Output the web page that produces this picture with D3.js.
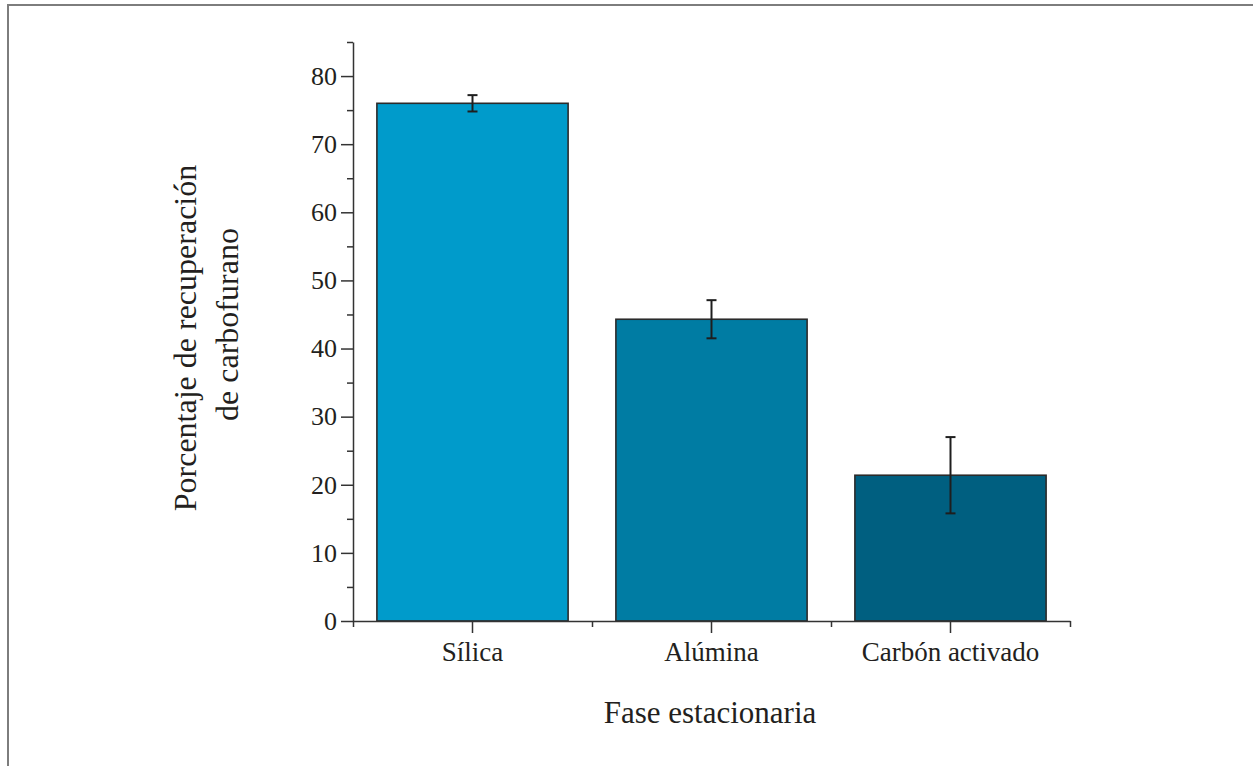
<!DOCTYPE html>
<html>
<head>
<meta charset="utf-8">
<script src="https://cdn.jsdelivr.net/npm/d3@7"></script>
<style>
  html, body { margin: 0; padding: 0; background: #fff; }
  svg { display: block; }
  text { font-family: "Liberation Serif", "DejaVu Serif", serif; fill: #231f20; }
</style>
</head>
<body>
<svg id="chart" width="1253" height="766"></svg>
<script>
// Recovery of carbofuran by stationary phase (mean and error)
const categories = ["Sílica", "Alúmina", "Carbón activado"];
const recovery = [76.0, 44.3, 21.4];
const errors = [1.2, 2.8, 5.6];
const barColors = ["#009bcb", "#007ca3", "#005f80"];
const majorYTicks = [0, 10, 20, 30, 40, 50, 60, 70, 80];
const minorYTicks = [5, 15, 25, 35, 45, 55, 65, 75, 85];
const xTitle = "Fase estacionaria";
const yTitleLines = ["Porcentaje de recuperación", "de carbofurano"];

const svg = d3.select("#chart");
const W = 1253, H = 766;

// Frame
svg.append("rect")
  .attr("x", 8).attr("y", 5)
  .attr("width", W).attr("height", H)
  .attr("fill", "none")
  .attr("stroke", "#7d7d7d")
  .attr("stroke-width", 2);

const plotLeft = 353, plotRight = 1070, plotTop = 42, plotBottom = 621;

const y = d3.scaleLinear().domain([0, 85]).range([plotBottom, plotTop]);
const x = d3.scaleBand().domain(categories).range([plotLeft, plotRight])
  .paddingInner(0.2).paddingOuter(0.1);
const xEdge = d3.scaleLinear().domain([0, categories.length]).range([plotLeft, plotRight]);

const axisColor = "#333";

// Bars
svg.append("g").selectAll("rect")
  .data(categories)
  .join("rect")
  .attr("x", d => x(d))
  .attr("y", (d, i) => y(recovery[i]))
  .attr("width", x.bandwidth())
  .attr("height", (d, i) => y(0) - y(recovery[i]))
  .attr("fill", (d, i) => barColors[i])
  .attr("stroke", "#2b2b2b")
  .attr("stroke-width", 1.6);

// Error bars
const eb = svg.append("g").attr("stroke", "#1e1e1e").attr("stroke-width", 2);
categories.forEach((c, i) => {
  const cx = x(c) + x.bandwidth() / 2;
  const hi = y(recovery[i] + errors[i]);
  const lo = y(recovery[i] - errors[i]);
  eb.append("line").attr("x1", cx).attr("x2", cx).attr("y1", hi).attr("y2", lo);
  eb.append("line").attr("x1", cx - 5).attr("x2", cx + 5).attr("y1", hi).attr("y2", hi);
  eb.append("line").attr("x1", cx - 5).attr("x2", cx + 5).attr("y1", lo).attr("y2", lo);
});

function styleAxis(g) {
  g.selectAll("path, line").attr("stroke", axisColor).attr("stroke-width", 1.5);
  g.selectAll("text").attr("fill", "#231f20").attr("font-family", "Liberation Serif, serif");
}

// Y axis: major + minor ticks
const yMajor = svg.append("g").attr("transform", `translate(${plotLeft},0)`)
  .call(d3.axisLeft(y).tickValues(majorYTicks).tickSize(12).tickSizeOuter(0).tickPadding(4).tickFormat(d3.format("d")));
yMajor.selectAll("text").attr("font-size", 26);
styleAxis(yMajor);

const yMinor = svg.append("g").attr("transform", `translate(${plotLeft},0)`)
  .call(d3.axisLeft(y).tickValues(minorYTicks).tickSize(6).tickFormat(""));
yMinor.select(".domain").remove();
styleAxis(yMinor);

// X axis: ticks at category centres and at band edges
const xMajor = svg.append("g").attr("transform", `translate(0,${plotBottom})`)
  .call(d3.axisBottom(x).tickSize(12).tickSizeOuter(0).tickPadding(9));
xMajor.selectAll("text").attr("font-size", 27);
styleAxis(xMajor);

const xMinor = svg.append("g").attr("transform", `translate(0,${plotBottom})`)
  .call(d3.axisBottom(xEdge).tickValues(d3.range(categories.length + 1)).tickSize(6).tickFormat(""));
xMinor.select(".domain").remove();
styleAxis(xMinor);

// Axis titles
svg.append("text")
  .attr("x", 710).attr("y", 723)
  .attr("text-anchor", "middle")
  .attr("font-size", 31)
  .text(xTitle);

const yt = svg.append("g").attr("transform", "rotate(-90)");
yt.append("text")
  .attr("x", -338).attr("y", 196)
  .attr("text-anchor", "middle")
  .attr("font-size", 32)
  .text(yTitleLines[0]);
yt.append("text")
  .attr("x", -324.5).attr("y", 238)
  .attr("text-anchor", "middle")
  .attr("font-size", 32)
  .text(yTitleLines[1]);
</script>
</body>
</html>
